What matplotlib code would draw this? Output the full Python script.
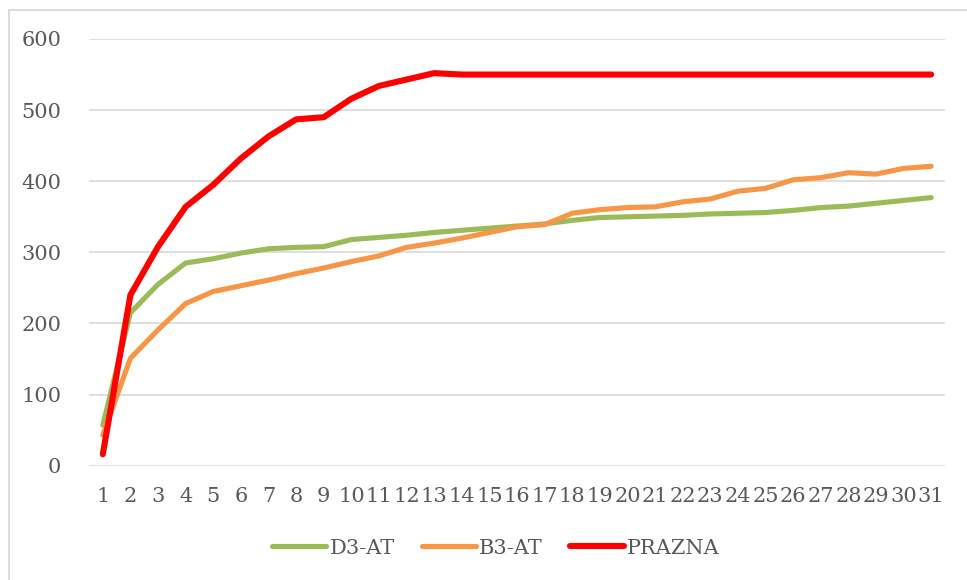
import matplotlib
matplotlib.use("Agg")
import matplotlib.pyplot as plt
from matplotlib.patches import Rectangle

days = list(range(1, 32))

d3_at = [57, 215, 255, 285, 291, 299, 305, 307, 308, 318, 321, 324, 328, 331, 334,
         337, 340, 345, 349, 350, 351, 352, 354, 355, 356, 359, 363, 365, 369, 373, 377]
b3_at = [43, 151, 191, 228, 245, 253, 261, 270, 278, 287, 295, 307, 313, 320, 328,
         336, 339, 355, 360, 363, 364, 371, 375, 386, 390, 402, 405, 412, 410, 418, 421]
prazna = [16, 240, 308, 364, 395, 432, 463, 487, 490, 516, 534, 543, 552, 550, 550,
          550, 550, 550, 550, 550, 550, 550, 550, 550, 550, 550, 550, 550, 550, 550, 550]

series = [
    ("D3-AT", d3_at, "#9BBB59", 3.7),
    ("B3-AT", b3_at, "#F79646", 3.7),
    ("PRAZNA", prazna, "#FF0000", 4.4),
]

TEXT = "#595959"
GRID = "#D9D9D9"

plt.rcParams["font.family"] = ["DejaVu Serif"]

W, H = 967, 580
fig = plt.figure(figsize=(W / 100, H / 100), dpi=100)
fig.patch.set_facecolor("white")

# outer chart frame (continues past the right and bottom edges)
fig.patches.append(Rectangle((9 / W, -0.2), 1.5, (H - 10) / H + 0.2,
                             transform=fig.transFigure, fill=False,
                             edgecolor=GRID, linewidth=1.3))

ax = fig.add_axes([89 / W, (H - 465.7) / H, (945 - 89) / W, (465.7 - 39) / H])

for name, vals, color, lw in series:
    ax.plot(days, vals, color=color, linewidth=lw, label=name,
            solid_capstyle="round", solid_joinstyle="round", zorder=3)

ax.set_xlim(0.5, 31.5)
ax.set_ylim(0, 600)
ax.set_yticks(range(0, 601, 100))
ax.set_xticks(days)
ax.set_xticklabels([str(d) for d in days])

ax.grid(axis="y", color=GRID, linewidth=1.2, zorder=0)
ax.grid(axis="x", visible=False)
for s in ax.spines.values():
    s.set_visible(False)
ax.tick_params(axis="both", length=0, labelsize=15, colors=TEXT)
ax.tick_params(axis="y", pad=20)
ax.tick_params(axis="x", pad=15)

leg = fig.legend(loc="center", bbox_to_anchor=(496 / W, (H - 548) / H), ncol=3,
                 frameon=False, fontsize=15, handlelength=2.6, handletextpad=0.15,
                 columnspacing=1.3, labelcolor=TEXT)

fig.savefig("out.png", dpi=100, facecolor="white")
